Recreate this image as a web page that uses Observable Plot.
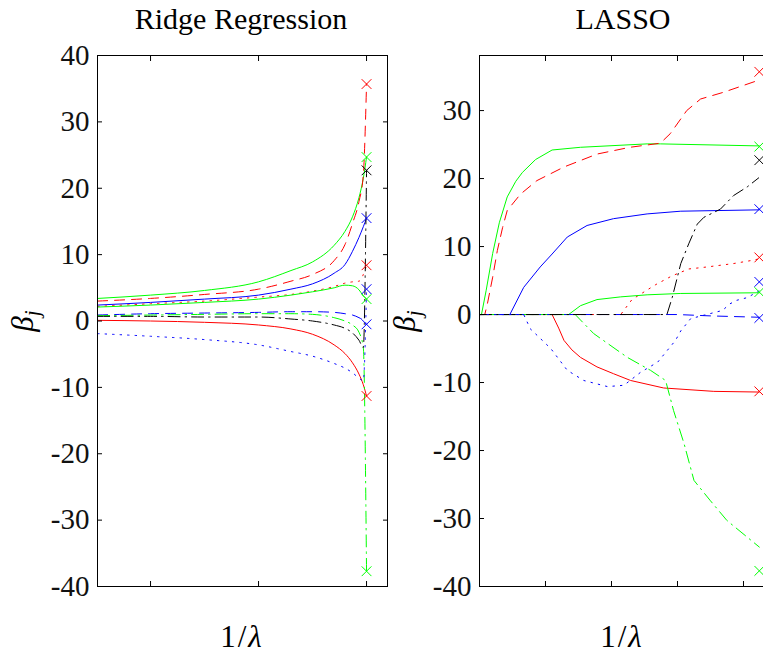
<!DOCTYPE html>
<html>
<head>
<meta charset="utf-8">
<script src="https://cdn.jsdelivr.net/npm/d3@7"></script>
<script src="https://cdn.jsdelivr.net/npm/@observablehq/plot@0.6"></script>
<style>
  html, body { margin: 0; padding: 0; background: #fff; }
  #wrap { position: relative; width: 763px; height: 657px; overflow: hidden; background: #fff; font-family: "Liberation Serif", "Times New Roman", serif; color: #000; }
  .panel { position: absolute; top: 0; }
  .panel svg { max-width: none !important; }
  .panel svg text { font-family: "Liberation Serif", "Times New Roman", serif !important; }
  .title { position: absolute; width: 300px; text-align: center; font-size: 30px; line-height: 30px; white-space: nowrap; }
  .xlab { position: absolute; width: 200px; text-align: center; font-size: 31px; line-height: 31px; letter-spacing: 2px; white-space: nowrap; }
  .ylab { position: absolute; font-size: 31px; line-height: 31px; white-space: nowrap; transform: translate(-50%, -50%) rotate(-90deg); }
  .ylab sub { font-size: 21px; vertical-align: -6px; }
</style>
</head>
<body>
<div id="wrap">
  <div class="title" style="left:91px; top:4px;">Ridge Regression</div>
  <div class="title" style="left:473px; top:4px;">LASSO</div>
  <div id="left" class="panel" style="left:0px; width:392px;"></div>
  <div id="right" class="panel" style="left:400px; width:373px;"></div>
  <div class="ylab" style="left:27px; top:321px;"><i>β</i><sub><i>j</i></sub></div>
  <div class="ylab" style="left:409px; top:321px;"><i>β</i><sub><i>j</i></sub></div>
  <div class="xlab" style="left:142px; top:621px;">1/<i>λ</i></div>
  <div class="xlab" style="left:522px; top:621px;">1/<i>λ</i></div>
</div>
<script>
// ---------- Ridge regression paths (common x grid) ----------
const ridgeX = [0.51, 1.0, 1.5, 2.0, 2.3, 2.5, 2.7, 2.8, 2.87, 2.93, 2.97, 3.0];
const ridgeRedSolid     = [0.1, 0.0, -0.2, -0.6, -1.2, -2.0, -3.6, -4.9, -6.3, -8.0, -9.6, -11.3];
const ridgeGreenUpper   = [3.4, 3.9, 4.6, 5.9, 7.6, 8.9, 11.4, 13.5, 15.7, 18.6, 21.5, 24.7];
const ridgeBlueSolid    = [2.4, 2.8, 3.3, 3.9, 4.8, 5.6, 7.2, 8.5, 10.5, 12.6, 14.2, 15.5];
const ridgeRedDashed    = [3.0, 3.4, 4.0, 4.8, 6.0, 7.0, 9.1, 11.5, 14.7, 18.0, 22.0, 35.7];
const ridgeRedDotted    = [2.2, 2.6, 3.0, 3.6, 4.0, 4.5, 5.2, 5.7, 5.9, 6.0, 7.0, 8.4];
const ridgeGreenLower   = [2.1, 2.4, 2.8, 3.3, 3.9, 4.4, 5.0, 5.4, 5.3, 4.7, 3.8, 3.3];
const ridgeBlueDashed   = [0.9, 1.1, 1.2, 1.3, 1.4, 1.4, 1.3, 1.1, 0.9, 0.5, 0.1, -0.5];
const ridgeGreenDashDot = [0.8, 0.9, 1.0, 1.1, 1.1, 1.0, 0.5, 0.0, -0.6, -1.7, -4.0, -37.7];
const ridgeBlackDashDot = [0.7, 0.7, 0.6, 0.6, 0.3, 0.0, -0.6, -1.1, -1.8, -2.9, -4.0, 22.7];
const ridgeBlueDotted   = [-1.9, -2.3, -2.8, -3.6, -4.6, -5.3, -6.4, -7.1, -7.8, -8.6, -9.0, 4.8];

// ---------- LASSO paths ([x, beta] breakpoints) ----------
const lassoRedSolid     = [[0,0],[1.1,0],[1.2,-2.0],[1.28,-3.8],[1.4,-5.2],[1.53,-6.3],[1.78,-7.7],[2.03,-8.7],[2.29,-9.7],[2.79,-10.8],[3.55,-11.3],[4.24,-11.4]];
const lassoGreenUpper   = [[0,0],[0.03,0],[0.1,3.5],[0.2,9.0],[0.3,13.5],[0.42,17.3],[0.55,19.6],[0.65,20.9],[0.85,22.8],[1.1,24.2],[1.53,24.6],[2.54,25.1],[2.74,25.1],[4.24,24.8]];
const lassoBlueSolid    = [[0,0],[0.46,0],[0.67,4.0],[0.92,7.0],[1.1,8.9],[1.33,11.4],[1.63,13.1],[2.03,14.1],[2.54,14.8],[3.05,15.2],[4.24,15.4]];
const lassoRedDashed    = [[0,0],[0.08,0],[0.12,1.6],[0.2,5.5],[0.27,9.4],[0.35,12.8],[0.42,15.3],[0.62,17.7],[0.87,19.7],[1.28,21.7],[1.78,23.6],[2.28,24.6],[2.74,25.2],[2.89,26.6],[3.14,30.0],[3.35,31.7],[3.7,32.7],[4.24,34.5]];
const lassoRedDotted    = [[0,0],[2.14,0],[2.31,2.2],[2.44,3.0],[2.67,4.4],[2.92,5.7],[3.17,6.7],[3.45,7.0],[3.85,7.5],[4.15,8.0],[4.24,8.2]];
const lassoGreenLower   = [[0,0],[1.35,0],[1.53,1.3],[1.78,2.2],[2.14,2.6],[2.54,2.9],[3.05,3.1],[4.24,3.2]];
const lassoBlueDashed   = [[0,0],[3.0,0],[3.5,-0.2],[4.24,-0.4]];
const lassoGreenDashDot = [[0,0],[1.45,0],[1.73,-2.8],[2.24,-6.3],[2.59,-8.2],[2.82,-9.7],[2.94,-14.1],[3.1,-19.0],[3.25,-24.4],[3.5,-27.4],[3.75,-30.3],[4.24,-34.2]];
const lassoBlackDashDot = [[0,0],[2.84,0],[2.92,2.5],[3.05,7.5],[3.17,10.4],[3.3,13.3],[3.4,14.3],[3.65,15.5],[3.85,17.5],[4.06,18.8],[4.23,20.1]];
const lassoBlueDotted   = [[0,0],[0.67,0],[0.77,-2.1],[1.08,-5.0],[1.33,-8.2],[1.58,-9.7],[1.94,-10.6],[2.19,-10.4],[2.44,-8.5],[2.7,-7.0],[2.97,-3.8],[3.05,-2.4],[3.2,-0.6],[3.68,0.6],[3.8,1.6],[3.9,2.1],[4.06,2.5],[4.24,3.5]];

// ---------- least-squares estimates (× markers) ----------
const olsValues = [-11.3, 24.7, 15.5, 35.7, 8.4, 3.3, -0.5, -37.7, 22.7, 4.8];
const olsColors = ["red", "lime", "blue", "red", "red", "lime", "blue", "lime", "black", "blue"];
const ridgeMarkerX = 3.0;
const lassoMarkerX = 4.24;

// ---------- axes ----------
const ridgeYTicks = [-40, -30, -20, -10, 0, 10, 20, 30, 40];
const ridgeXTicks = [1, 2, 3];
const lassoYTicks = [-40, -30, -20, -10, 0, 10, 20, 30];
const lassoXTicks = [1, 2, 3, 4];

// styles per series (same order as olsValues)
const seriesStyle = [
  {stroke: "red",   dash: null},
  {stroke: "lime",  dash: null},
  {stroke: "blue",  dash: null},
  {stroke: "red",   dash: "10,7"},
  {stroke: "red",   dash: "1.5,6"},
  {stroke: "lime",  dash: null},
  {stroke: "blue",  dash: "10,7"},
  {stroke: "lime",  dash: "12,5,1.5,5"},
  {stroke: "black", dash: "12,5,1.5,5"},
  {stroke: "blue",  dash: "1.5,6"}
];

const ridgeSeries = [ridgeRedSolid, ridgeGreenUpper, ridgeBlueSolid, ridgeRedDashed, ridgeRedDotted,
  ridgeGreenLower, ridgeBlueDashed, ridgeGreenDashDot, ridgeBlackDashDot, ridgeBlueDotted];
const lassoSeries = [lassoRedSolid, lassoGreenUpper, lassoBlueSolid, lassoRedDashed, lassoRedDotted,
  lassoGreenLower, lassoBlueDashed, lassoGreenDashDot, lassoBlackDashDot, lassoBlueDotted];

function lineMarks(seriesPts, curve) {
  return seriesPts.map((pts, i) => Plot.line(pts, {
    x: d => d[0], y: d => d[1],
    stroke: seriesStyle[i].stroke,
    strokeWidth: 1,
    strokeDasharray: seriesStyle[i].dash || undefined,
    curve
  }));
}

function markers(xv) {
  const pts = olsValues.map((v, i) => ({x: xv, y: v, c: olsColors[i]}));
  return Plot.dot(pts, {x: "x", y: "y", symbol: "times", r: 4.5, stroke: d => d.c, strokeWidth: 1});
}

const serif = "Liberation Serif";
function axes(yTicks, xTicks) {
  return [
    Plot.frame({stroke: "black", strokeWidth: 1}),
    Plot.axisY({anchor: "left", ticks: yTicks, tickSize: -5, tickPadding: 13, tickFormat: d => String(d), label: null, fontSize: 29, fontFamily: serif, fill: "#111"}),
    Plot.axisY({anchor: "right", ticks: yTicks, tickSize: -5, tickFormat: () => "", label: null}),
    Plot.axisX({anchor: "bottom", ticks: xTicks, tickSize: -5, tickFormat: () => "", label: null}),
    Plot.axisX({anchor: "top", ticks: xTicks, tickSize: -5, tickFormat: () => "", label: null})
  ];
}

const commonStyle = {fontFamily: serif, fontSize: "29px", color: "black", background: "transparent", overflow: "visible", maxWidth: "none"};

const ridgePts = ridgeSeries.map(ys => ys.map((y, i) => [ridgeX[i], y]));

const left = Plot.plot({
  width: 392, height: 596,
  marginLeft: 97, marginRight: 5, marginTop: 55, marginBottom: 10,
  x: {domain: [0.509, 3.194]},
  y: {domain: [-40, 40]},
  style: commonStyle,
  marks: [
    ...lineMarks(ridgePts, "monotone-x"),
    markers(ridgeMarkerX),
    ...axes(ridgeYTicks, ridgeXTicks)
  ]
});
document.getElementById("left").appendChild(left);

const right = Plot.plot({
  width: 373, height: 596,
  marginLeft: 79, marginRight: 5, marginTop: 55, marginBottom: 10,
  x: {domain: [0, 4.379]},
  y: {domain: [-40, 38.1]},
  style: commonStyle,
  marks: [
    ...lineMarks(lassoSeries, "linear"),
    markers(lassoMarkerX),
    ...axes(lassoYTicks, lassoXTicks)
  ]
});
document.getElementById("right").appendChild(right);
</script>
</body>
</html>
